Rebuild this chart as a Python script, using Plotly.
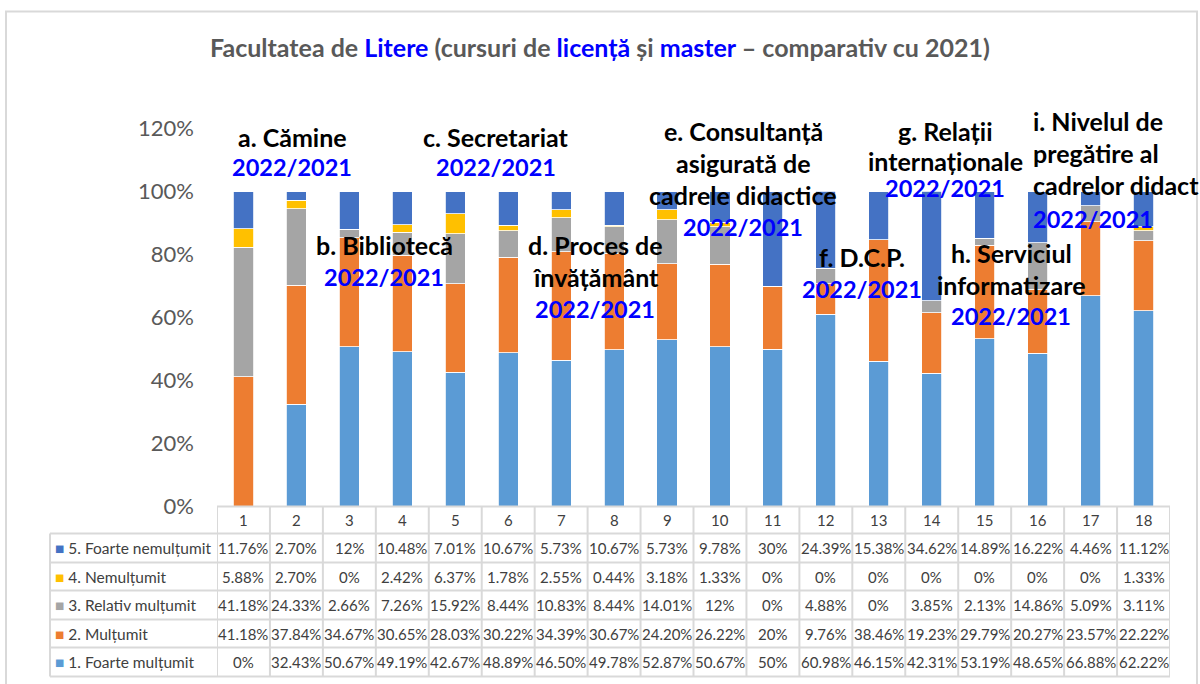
import plotly.graph_objects as go

# ---------------- data ----------------
categories = [str(i) for i in range(1, 19)]
series_names = ["1. Foarte mulțumit", "2. Mulțumit", "3. Relativ mulțumit",
                "4. Nemulțumit", "5. Foarte nemulțumit"]
foarte_multumit = [0, 32.43, 50.67, 49.19, 42.67, 48.89, 46.50, 49.78, 52.87,
                   50.67, 50, 60.98, 46.15, 42.31, 53.19, 48.65, 66.88, 62.22]
multumit = [41.18, 37.84, 34.67, 30.65, 28.03, 30.22, 34.39, 30.67, 24.20,
            26.22, 20, 9.76, 38.46, 19.23, 29.79, 20.27, 23.57, 22.22]
relativ_multumit = [41.18, 24.33, 2.66, 7.26, 15.92, 8.44, 10.83, 8.44, 14.01,
                    12, 0, 4.88, 0, 3.85, 2.13, 14.86, 5.09, 3.11]
nemultumit = [5.88, 2.70, 0, 2.42, 6.37, 1.78, 2.55, 0.44, 3.18,
              1.33, 0, 0, 0, 0, 0, 0, 0, 1.33]
foarte_nemultumit = [11.76, 2.70, 12, 10.48, 7.01, 10.67, 5.73, 10.67, 5.73,
                     9.78, 30, 24.39, 15.38, 34.62, 14.89, 16.22, 4.46, 11.12]
series_values = [foarte_multumit, multumit, relativ_multumit, nemultumit, foarte_nemultumit]
colors = ["#5B9BD5", "#ED7D31", "#A5A5A5", "#FFC000", "#4472C4"]
ytick_vals = [0, 20, 40, 60, 80, 100, 120]
ytick_text = ["0%", "20%", "40%", "60%", "80%", "100%", "120%"]

labels = [
    (["a. Cămine"], 292, [136], 167),
    (["b. Bibliotecă"], 384, [245], 277),
    (["c. Secretariat"], 496, [136], 167),
    (["d. Proces de", "învățământ"], 595, [245, 277], 309),
    (["e. Consultanță", "asigurată de", "cadrele didactice"], 743, [130, 162, 194], 226),
    (["f. D.C.P."], 862, [256], 288),
    (["g. Relații", "internaționale"], 945, [130, 161], 187),
    (["h. Serviciul", "informatizare"], 1011, [252, 284], 315),
]
label_i = (["i. Nivelul de", "pregătire al", "cadrelor didact"], 1031, [121, 153, 185], 218)

# ---------------- geometry helpers ----------------
W, H = 1200, 684
# the rendered figure occupies ~657 px in height, centred vertically
VOFF, VH = 13.5, 657.0
def px(x):
    return x / W
def py(y):
    return 1 - (y - VOFF) / VH

FONT = "Lato"
plot_left, plot_right = 217, 1170
y_top, y_bottom = 128, 506
row_lines = [533, 562, 590, 619, 647, 676]

fig = go.Figure()
for name, vals, col in zip(series_names, series_values, colors):
    fig.add_trace(go.Bar(
        x=categories, y=vals, name=name,
        marker=dict(color=col, line=dict(color="white", width=0.8)),
        showlegend=False,
    ))

fig.update_layout(
    width=W, height=H,
    margin=dict(l=0, r=0, t=0, b=0),
    barmode="stack", bargap=0.62,
    plot_bgcolor="white", paper_bgcolor="white",
    font=dict(family=FONT, color="#404040"),
    xaxis=dict(type="category", domain=[px(plot_left), px(plot_right)], range=[-0.5, 17.5],
               showticklabels=False, showgrid=False, zeroline=False, showline=False,
               ticks=""),
    yaxis=dict(domain=[py(y_bottom), py(y_top)], range=[0, 120],
               tickvals=ytick_vals, ticktext=ytick_text,
               tickfont=dict(size=22, color="#595959", family=FONT),
               showgrid=False, zeroline=False, showline=False, ticks="",
               ticklabelstandoff=22),
)

shapes = []
line_col = "#D9D9D9"
# outer border
shapes.append(dict(type="rect", xref="paper", yref="paper",
                   x0=px(6), x1=px(1197), y0=py(720), y1=py(11),
                   line=dict(color=line_col, width=2), fillcolor="rgba(0,0,0,0)"))
# table horizontal lines
shapes.append(dict(type="line", xref="paper", yref="paper",
                   x0=px(plot_left), x1=px(plot_right), y0=py(y_bottom), y1=py(y_bottom),
                   line=dict(color=line_col, width=2)))
for yl in row_lines:
    shapes.append(dict(type="line", xref="paper", yref="paper",
                       x0=px(50), x1=px(plot_right), y0=py(yl), y1=py(yl),
                       line=dict(color=line_col, width=2)))
# table vertical lines
for k in range(len(categories) + 1):
    shapes.append(dict(type="line", xref="x", yref="paper",
                       x0=k - 0.5, x1=k - 0.5, y0=py(y_bottom), y1=py(row_lines[-1]),
                       line=dict(color=line_col, width=2)))
shapes.append(dict(type="line", xref="paper", yref="paper",
                   x0=px(50), x1=px(50), y0=py(row_lines[0]), y1=py(row_lines[-1]),
                   line=dict(color=line_col, width=2)))

annotations = []
cell_font = dict(size=15, color="#404040", family=FONT)
# header row
for i, c in enumerate(categories):
    annotations.append(dict(x=i, y=py((y_bottom + row_lines[0]) / 2), xref="x", yref="paper",
                            text=c, showarrow=False, xanchor="center", yanchor="middle",
                            font=cell_font))

def fmt(v):
    if abs(v - round(v)) < 1e-9:
        return f"{int(round(v))}%"
    return f"{v:.2f}%"

# data rows (top row = series 5)
order = [4, 3, 2, 1, 0]
for r, si in enumerate(order):
    yc = py((row_lines[r] + row_lines[r + 1]) / 2)
    annotations.append(dict(x=px(53), y=yc, xref="paper", yref="paper",
                            text=f"<span style='color:{colors[si]}'>■</span> {series_names[si]}",
                            showarrow=False, xanchor="left", yanchor="middle",
                            font=dict(size=15.5, color="#404040", family=FONT)))
    for i, v in enumerate(series_values[si]):
        annotations.append(dict(x=i, y=yc, xref="x", yref="paper", text=fmt(v),
                                showarrow=False, xanchor="center", yanchor="middle",
                                font=cell_font))

# title
title = ("<b>Facultatea de <span style='color:#0000FF'>Litere</span> (cursuri de "
         "<span style='color:#0000FF'>licență</span> și "
         "<span style='color:#0000FF'>master</span> – comparativ cu 2021)</b>")
annotations.append(dict(x=px(600), y=py(47), xref="paper", yref="paper", text=title,
                        showarrow=False, xanchor="center", yanchor="middle",
                        font=dict(size=25, color="#595959", family=FONT)))

lab_font = dict(size=25, color="black", family=FONT)
blue_font = dict(size=23.5, color="#0000FF", family=FONT)
for lines, xc, ys, yb in labels:
    for t, yy in zip(lines, ys):
        annotations.append(dict(x=px(xc), y=py(yy), xref="paper", yref="paper",
                                text=f"<b>{t}</b>", showarrow=False, xanchor="center",
                                yanchor="middle", font=lab_font))
    annotations.append(dict(x=px(xc), y=py(yb), xref="paper", yref="paper",
                            text="<b>2022/2021</b>", showarrow=False, xanchor="center",
                            yanchor="middle", font=blue_font))
lines, xl, ys, yb = label_i
for t, yy in zip(lines, ys):
    annotations.append(dict(x=px(xl), y=py(yy), xref="paper", yref="paper",
                            text=f"<b>{t}</b>", showarrow=False, xanchor="left",
                            yanchor="middle", font=lab_font))
annotations.append(dict(x=px(xl), y=py(yb), xref="paper", yref="paper",
                        text="<b>2022/2021</b>", showarrow=False, xanchor="left",
                        yanchor="middle", font=blue_font))

fig.update_layout(shapes=shapes, annotations=annotations)
fig.write_html("out.html", config={"displayModeBar": False},
               post_script="document.body.style.margin='0';document.body.style.overflow='hidden';")
